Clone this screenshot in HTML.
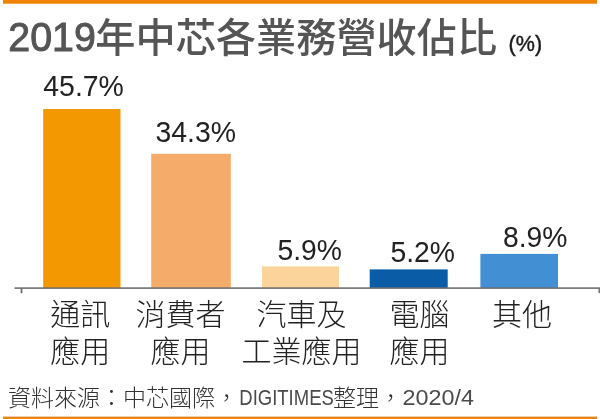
<!DOCTYPE html>
<html lang="zh-Hant">
<head>
<meta charset="utf-8">
<title>2019年中芯各業務營收佔比</title>
<style>
html,body{margin:0;padding:0;background:#fff;}
body{width:600px;height:419px;overflow:hidden;}
svg{display:block;}
.lat{font-family:"Liberation Sans",sans-serif;}
.cjk{font-family:"Liberation Sans","Noto Sans CJK TC",sans-serif;}
.ttl{fill:#555;font-weight:500;}
.val{fill:#222;font-size:30.3px;}
.lab{fill:#222;font-size:30px;font-weight:300;}
.src{fill:#333;font-size:23px;font-weight:300;}
.srl{fill:#4a4a4a;font-size:21.5px;}
</style>
</head>
<body>
<svg width="600" height="419" viewBox="0 0 600 419">
<rect x="0" y="0" width="600" height="419" fill="#fff"/>
<!-- top / bottom rules -->
<rect x="3" y="0" width="594" height="3.7" fill="#ef8200"/>
<rect x="3" y="416.6" width="594" height="2.4" fill="#e5861c"/>
<!-- title -->
<text class="lat ttl" x="8.3" y="50.6" font-size="41" textLength="87.5" lengthAdjust="spacingAndGlyphs" stroke="#555" stroke-width="1">2019</text>
<text class="cjk ttl" x="95.3" y="51.6" font-size="40.2">年中芯各業務營收佔比</text>
<text class="lat" x="508.6" y="50.8" font-size="22" fill="#1c1c1c" stroke="#1c1c1c" stroke-width="0.45" textLength="33.5" lengthAdjust="spacingAndGlyphs">(%)</text>
<!-- bars -->
<rect x="43.2" y="109" width="77.3" height="179" fill="#f39800"/>
<rect x="151.2" y="153.8" width="79.6" height="134.2" fill="#f5ac6a"/>
<rect x="262" y="266.4" width="77" height="21.6" fill="#fbd49c"/>
<rect x="369.7" y="269.4" width="78" height="18.6" fill="#0b5ca6"/>
<rect x="480.4" y="253.9" width="77.6" height="34.1" fill="#428fd3"/>
<!-- axis -->
<rect x="14.5" y="287.3" width="585.5" height="1.6" fill="#707070"/>
<rect x="20.6" y="288" width="1.8" height="5.2" fill="#707070"/>
<rect x="598.5" y="288" width="1.5" height="5.2" fill="#707070"/>
<!-- values -->
<text class="lat val" x="43.3" y="95.7" textLength="80.5" lengthAdjust="spacingAndGlyphs">45.7%</text>
<text class="lat val" x="155.5" y="142.4" textLength="80.5" lengthAdjust="spacingAndGlyphs">34.3%</text>
<text class="lat val" x="277.5" y="260.0" textLength="64.5" lengthAdjust="spacingAndGlyphs">5.9%</text>
<text class="lat val" x="390.5" y="262.4" textLength="64.5" lengthAdjust="spacingAndGlyphs">5.2%</text>
<text class="lat val" x="503" y="247.4" textLength="64.5" lengthAdjust="spacingAndGlyphs">8.9%</text>
<!-- labels -->
<text class="cjk lab" x="80.3" y="325" text-anchor="middle">通訊</text>
<text class="cjk lab" x="80.3" y="361.5" text-anchor="middle">應用</text>
<text class="cjk lab" x="180.5" y="325" text-anchor="middle">消費者</text>
<text class="cjk lab" x="180.5" y="361.5" text-anchor="middle">應用</text>
<text class="cjk lab" x="301.5" y="325" text-anchor="middle">汽車及</text>
<text class="cjk lab" x="301.5" y="361.5" text-anchor="middle">工業應用</text>
<text class="cjk lab" x="419.5" y="325" text-anchor="middle">電腦</text>
<text class="cjk lab" x="419.5" y="361.5" text-anchor="middle">應用</text>
<text class="cjk lab" x="522" y="325" text-anchor="middle">其他</text>
<!-- source -->
<text class="cjk src" x="8" y="405.7">資料來源：中芯國際，</text>
<text class="lat srl" x="239.3" y="405" textLength="94.5" lengthAdjust="spacingAndGlyphs">DIGITIMES</text>
<text class="cjk src" x="333" y="405.7">整理，</text>
<text class="lat srl" x="402.5" y="405" textLength="71.5" lengthAdjust="spacingAndGlyphs">2020/4</text>
</svg>
</body>
</html>
